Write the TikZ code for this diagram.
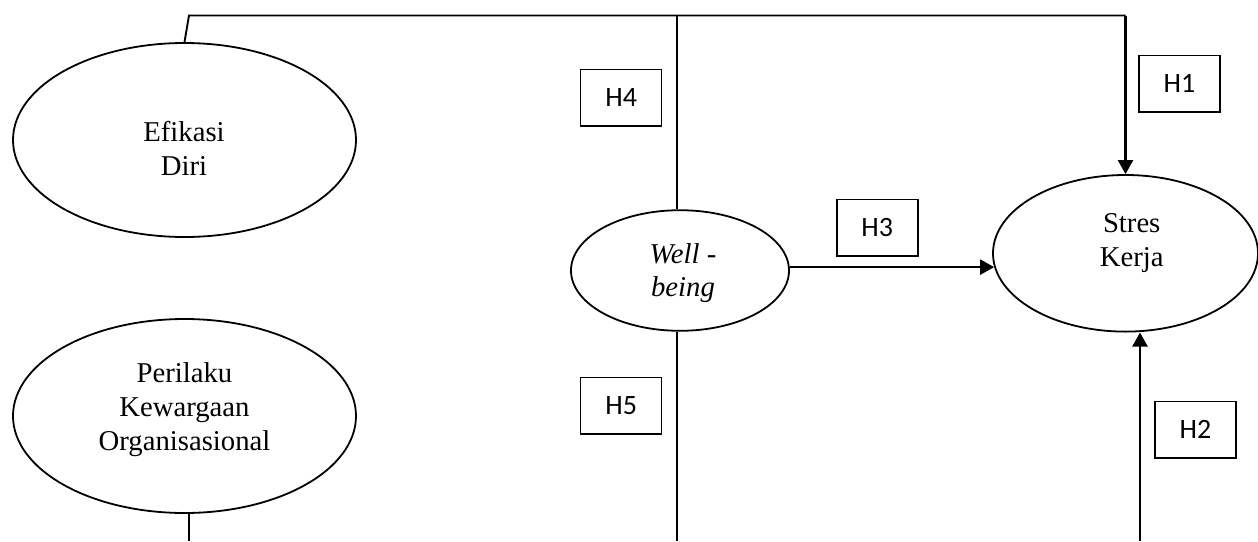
\documentclass[tikz,border=0pt]{standalone}
\usepackage{fontspec}
\setmainfont{Liberation Serif}
\newfontfamily\boxfont{Carlito}
\usetikzlibrary{shapes.geometric,arrows.meta}
\begin{document}
\begin{tikzpicture}[x=1pt,y=-1pt,
  ell/.style={draw=black,ellipse,line width=1.8pt,inner sep=0pt},
  lbl/.style={anchor=base,font=\fontsize{28.7}{34}\selectfont,inner sep=0pt},
  hbox/.style={draw=black,line width=1.4pt,minimum width=81pt,minimum height=56.5pt,inner sep=0pt,font=\boxfont\fontsize{28}{32}\selectfont},
  conn/.style={line width=1.9pt},
  arr/.style={line width=2.2pt,-{Triangle[length=14pt,width=15pt]}}]
\useasboundingbox (0,0) rectangle (1258,541);
% ellipses
\node[ell,minimum width=343pt,minimum height=194pt] (efik) at (184.5,140) {};
\node[ell,minimum width=343pt,minimum height=194pt] (peril) at (184.5,416) {};
\node[ell,minimum width=218pt,minimum height=120.6pt] (well) at (680,270.5) {};
\node[ell,minimum width=265pt,minimum height=156.6pt] (stres) at (1125.5,253.3) {};
% texts
\node[lbl] (efikA) at (184,141.7) {Efikasi};
\node[lbl] (efikB) at (184,175.7) {Diri};
\node[lbl] (perilA) at (184.5,382.7) {Perilaku};
\node[lbl] (perilB) at (184.5,416.7) {Kewargaan};
\node[lbl] (perilC) at (184.5,450) {Organisasional};
\node[lbl] (wellA) at (683,263.3) {\textit{Well -}};
\node[lbl] (wellB) at (683,296.7) {\textit{being}};
\node[lbl] (stresA) at (1131.7,232.7) {Stres};
\node[lbl] (stresB) at (1131.7,266) {Kerja};
% hypothesis boxes
\node[hbox] (h4) at (621.2,97.7) {H4};
\node[hbox] (h5) at (621.2,405.7) {H5};
\node[hbox] (h3) at (877.3,227.7) {H3};
\node[hbox] (h1) at (1179.5,83.7) {H1};
\node[hbox] (h2) at (1195.5,429.7) {H2};
% coordinates
\coordinate (ctop) at (189,15.5);
\coordinate (wtop) at (677.3,15.5);
\coordinate (wbot) at (677.3,541);
\coordinate (pbot) at (189,541);
\coordinate (sbot) at (1140,541);
% connectors
\draw[conn] (efik.north) -- (ctop) -- (stres.north |- ctop);
\draw[arr] (stres.north |- ctop) -- (stres.north);
\draw[conn] (wtop) -- (wtop |- well.north);
\draw[conn] (wtop |- well.south) -- (wbot);
\draw[conn] (pbot |- peril.south) -- (pbot);
\draw[arr] (well.east |- stres.186) -- (stres.186);
\draw[arr] (sbot) -- (sbot |- stres.south);
\end{tikzpicture}
\end{document}
